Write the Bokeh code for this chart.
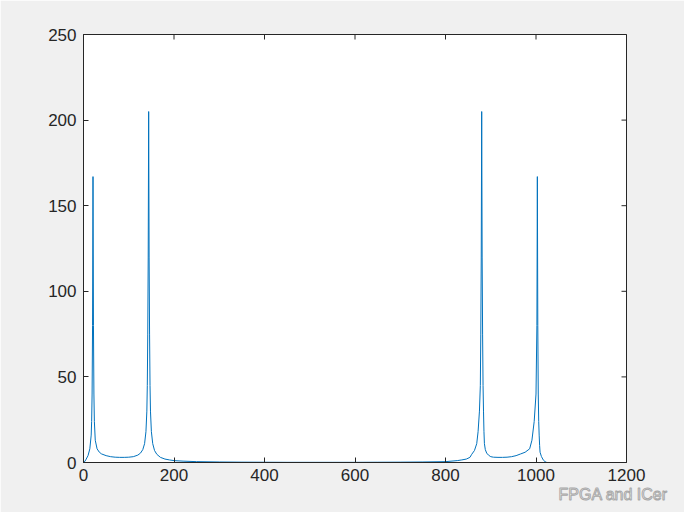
import math
from bokeh.plotting import figure
from bokeh.models import Range1d, FixedTicker, Title
from bokeh.embed import file_html
from bokeh.resources import INLINE

# FFT magnitude samples (bin index, magnitude)
bins = [1, 5, 10, 14, 17, 18, 19, 20, 21, 22, 23, 24, 26, 30, 35, 40, 50, 60, 70, 80, 90,
        100, 110, 120, 126, 131, 135, 138, 140, 141, 142, 143, 144, 145, 146, 147, 148, 150,
        153, 157, 162, 170, 180, 190, 200, 220, 250, 300, 350, 400, 450, 500, 513,
        550, 600, 650, 700, 750, 800, 826, 836, 846, 854, 858, 864, 869, 872, 875, 877,
        878, 879, 880, 881, 882, 883, 884, 885, 886, 888, 891, 895, 900, 906, 916, 926,
        936, 946, 956, 966, 976, 986, 991, 996, 1000, 1002, 1003, 1004, 1005, 1006,
        1007, 1008, 1009, 1012, 1016, 1020, 1024]
mags = [0.0, 1.5, 4.0, 8.0, 16.0, 24.0, 40.0, 80.0, 167.0, 80.0, 40.0, 24.0, 13.0, 8.0, 6.0, 5.0,
        4.0, 3.4, 3.1, 3.0, 3.0, 3.1, 3.4, 4.3, 5.5, 7.5, 11.0, 18.0, 30.0, 45.0, 75.0, 120.0,
        205.0, 120.0, 75.0, 45.0, 30.0, 18.0, 11.0, 7.0, 4.8, 3.0, 2.0, 1.5, 1.1, 0.8, 0.5, 0.3,
        0.2, 0.15, 0.1, 0.1, 0.1,
        0.1, 0.1, 0.15, 0.2, 0.3, 0.5, 1.1, 1.5, 2.0, 3.0, 4.8, 7.0, 11.0, 18.0, 30.0, 45.0,
        75.0, 120.0, 205.0, 120.0, 75.0, 45.0, 30.0, 18.0, 11.0, 7.5, 5.5, 4.3, 3.4, 3.1,
        3.0, 3.0, 3.1, 3.4, 4.0, 5.0, 6.0, 8.0, 13.0, 24.0, 40.0, 80.0, 167.0, 80.0, 40.0,
        24.0, 16.0, 10.0, 6.0, 3.5, 1.5, 0.5, 0.0]

x_ticks = [0, 200, 400, 600, 800, 1000, 1200]
y_ticks = [0, 50, 100, 150, 200, 250]
x_max, y_max = 1200, 250
watermark = "FPGA and ICer"

W, H = 684, 512
p = figure(width=W, height=H, output_backend="svg", toolbar_location=None,
           x_range=Range1d(0, x_max), y_range=Range1d(0, y_max),
           min_border_left=83, min_border_right=58, min_border_top=34, min_border_bottom=50,
           background_fill_color="white", border_fill_color="#f0f0f0")
p.grid.visible = False
p.outline_line_color = "#262626"
p.outline_line_width = 1

p.line(bins, mags, line_color="#0072BD", line_width=1)

axis_color = "#262626"
p.xaxis.ticker = FixedTicker(ticks=x_ticks)
p.yaxis.ticker = FixedTicker(ticks=y_ticks)

for ax in list(p.xaxis) + list(p.yaxis):
    ax.major_tick_in = 5
    ax.major_tick_out = 0
    ax.minor_tick_line_color = None
    ax.axis_line_color = axis_color
    ax.major_tick_line_color = axis_color
    ax.major_label_text_color = "#262626"
    ax.major_label_text_font = "Liberation Sans"
    ax.major_label_text_font_size = "17px"
p.xaxis.major_label_standoff = 6
p.yaxis.major_label_standoff = 7

# inward ticks on the top and right edges of the box (half of each dash clipped by the frame)
p.scatter(x_ticks, [y_max] * len(x_ticks), marker="dash", size=10, angle=math.pi / 2,
          line_color=axis_color, line_width=1)
p.scatter([x_max] * len(y_ticks), y_ticks, marker="dash", size=10,
          line_color=axis_color, line_width=1)

# watermark below the axis
wm = Title(text=watermark, align="left", offset=475, standoff=0,
           text_font="Liberation Sans", text_font_size="16px", text_font_style="normal",
           text_color="#ffffff", text_outline_color="#a8a8a8")
p.add_layout(wm, "below")

open("out.html", "w").write(file_html(p, INLINE))
